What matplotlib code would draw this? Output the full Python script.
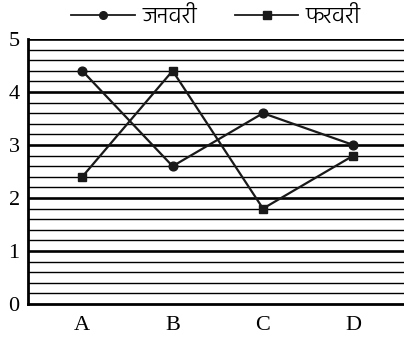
import matplotlib
matplotlib.use("Agg")
import matplotlib.pyplot as plt
from matplotlib import font_manager
import numpy as np

# data
categories = ["A", "B", "C", "D"]
january = [4.4, 2.6, 3.6, 3.0]
february = [2.4, 4.4, 1.8, 2.8]
series_names = ["जनवरी", "फरवरी"]

# a thin Devanagari face, if one is installed
for path in font_manager.findSystemFonts():
    if path.split("/")[-1] in ("Hind-Light.ttf", "Hind-Regular.ttf"):
        font_manager.fontManager.addfont(path)
hindi_font = ["Hind", "Noto Sans Devanagari UI", "DejaVu Sans"]
plt.rcParams["font.family"] = ["Liberation Serif", "DejaVu Serif"]

fig = plt.figure(figsize=(4.04, 3.4), dpi=100)
ax = fig.add_axes([28 / 404, 1 - 304 / 340, 1 - 28 / 404, (304 - 39) / 340])

x = np.arange(len(categories))

# horizontal lines: thin every 0.2, thick every 1
for y in np.arange(0.2, 5.0, 0.2):
    if abs(y - round(y)) < 1e-6:
        ax.axhline(y, color="black", lw=1.9, zorder=1)
    else:
        ax.axhline(y, color="black", lw=1.0, zorder=1)
ax.axhline(5, color="black", lw=1.9, zorder=1)

ax.plot(x, january, color="#1a1a1a", lw=1.6, marker="o", ms=6.3, label=series_names[0], zorder=3)
ax.plot(x, february, color="#1a1a1a", lw=1.6, marker="s", ms=5.8, label=series_names[1], zorder=3)

ax.set_xlim(-0.6, 3.56)
ax.set_ylim(0, 5)
ax.set_xticks(x)
ax.set_xticklabels(categories)
ax.set_yticks(range(6))
ax.tick_params(length=0, labelsize=16)
ax.tick_params(axis="x", pad=9)
ax.tick_params(axis="y", pad=6)

for side in ["top", "right"]:
    ax.spines[side].set_visible(False)
for side in ["left", "bottom"]:
    ax.spines[side].set_linewidth(2.0)

leg = fig.legend(loc="center", bbox_to_anchor=(216 / 404, 1 - 17 / 340), ncol=2, frameon=False,
                 handlelength=2.7, handletextpad=0.3, columnspacing=1.6, borderpad=0.1,
                 prop={"family": hindi_font, "size": 17, "weight": "light"})
for line in leg.get_lines():
    line.set_linewidth(1.3)
    line.set_markersize(5.5)

fig.savefig("out.png", dpi=100)
